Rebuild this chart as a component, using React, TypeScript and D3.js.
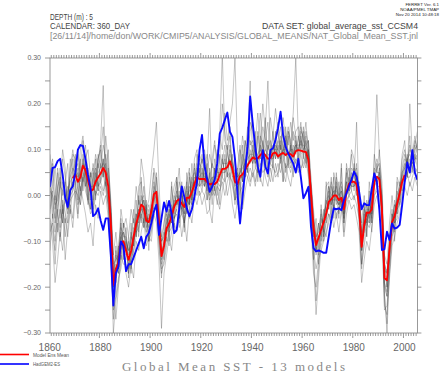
import * as d3 from "d3";
import React from "react";

const width = 441;
const height = 374;
const plot = { left: 50, right: 417.4, top: 58, bottom: 333 };

const firstYear = 1860;
const lastYear = 2005;
const ensStart = 1869;

// gray model runs, annual means 1860-2005, in hundredths of a degree
const model01 = [5, 8, 2, -4, 3, 10, 6, -3, 5, 9,
  8, 2, 10, 13, 7, 0, -3, 4, 9, 6,
  12, 24, 3, -2, -12, -27, -20, -11, -14, -6,
  -8, -17, -10, -3, -9, 2, 3, -6, -1, -10,
  0, 6, 3, -11, -18, -9, -2, -10, -1, 2,
  4, -5, 2, -7, 3, 6, -2, 8, 10, 3,
  9, 2, 7, -3, 8, 12, 5, 14, 31, 12,
  10, 15, 4, -2, 6, 11, 3, 12, 9, 16,
  14, 6, 12, 18, 10, 15, 25, 11, 7, 13,
  16, 8, 12, 5, 14, 10, 17, 13, 6, 15,
  12, 16, 9, -5, -14, -10, -15, -3, -9, 2,
  3, -6, 5, 2, -5, 6, -8, 7, 3, 10,
  8, 2, -6, -15, -2, -9, 1, -6, 9, 5,
  10, -1, -22, -28, -9, -3, -10, 4, 2, 9,
  12, 4, 20, 9, 13, 10];
const model02 = [-6, -10, -19, -14, -8, -12, -5, -9, -3, -7,
  0, -5, 2, -1, -4, -8, -6, -11, -2, -5,
  1, -2, 0, -5, -14, -25, -22, -18, -16, -12,
  -17, -20, -15, -18, -10, -12, -8, -5, -11, -9,
  -10, -4, -6, -14, -29, -17, -13, -9, -12, -6,
  -8, -4, -9, -5, -10, -3, -6, 0, -2, 1,
  -2, 0, -4, -3, -6, 2, -1, -3, 1, 4,
  0, 3, -2, -5, -1, 2, -3, 1, 4, 2,
  5, 2, 6, 3, 8, 4, 2, 6, 3, 7,
  4, 9, 5, 3, 8, 6, 10, 7, 5, 9,
  6, 8, 4, -6, -17, -20, -14, -12, -10, -8,
  -6, -3, -7, -4, -8, -3, -9, -4, -1, -3,
  -2, -5, -8, -19, -14, -10, -12, -7, -2, 0,
  -3, -9, -24, -26, -18, -11, -9, -6, -4, -1,
  2, 0, 3, 1, 4, 2];
const model03 = [3, -1, -5, 2, 4, -3, -6, 1, 4, 6,
  5, 7, 3, 8, 2, 6, 3, -1, 5, 2,
  7, 4, 9, 5, -3, -17, -13, -16, -8, -12,
  -10, -12, -8, -11, -4, -6, 0, -3, -7, -3,
  -6, 2, 0, -4, -11, -14, -5, -8, -2, -5,
  -3, 1, -4, -1, 2, -2, 3, 1, 6, 2,
  6, 3, 5, 0, 4, 1, 6, 3, 8, 5,
  9, 7, 4, 5, 0, 6, 3, 8, 5, 10,
  7, 11, 5, 10, 8, 12, 6, 9, 11, 8,
  11, 7, 10, 12, 6, 11, 8, 12, 9, 13,
  8, 12, 6, 2, -5, -9, -6, -10, -4, -2,
  1, -3, 2, -2, 1, 3, -1, 3, 0, 5,
  1, 5, 0, -8, -3, -6, -1, -5, 5, 2,
  6, -1, -15, -17, -14, -4, -6, 0, 2, 5,
  7, 4, 8, 6, 9, 6];
const model04 = [-4, 2, 6, 0, -5, 3, 1, -3, -1, 8,
  2, 6, 0, 9, 4, -1, 5, 3, 0, 7,
  3, 8, 2, 6, -2, -14, -19, -11, -6, -13,
  -14, -9, -16, -7, -8, 0, -5, 2, -3, -9,
  -2, -3, 5, -2, -10, -8, -10, -3, -6, 0,
  3, -2, 1, -5, -3, 4, -1, 6, 2, 9,
  7, 10, 5, 9, 6, 11, 8, 13, 10, 18,
  12, 16, 20, 30, 10, 7, 13, 9, 15, 11,
  12, 9, 14, 10, 15, 12, 16, 9, 13, 10,
  12, 15, 10, 13, 11, 16, 12, 14, 15, 11,
  14, 11, 12, 3, -3, -10, -7, -4, -8, -1,
  2, 0, -3, 4, 1, -2, -1, 4, 6, 2,
  6, 1, 3, -9, -8, -1, -5, 1, 2, 7,
  3, 0, -16, -20, -10, -8, -1, -4, 3, 1,
  6, 9, 5, 10, 8, 12];
const model05 = [-8, -6, -10, -4, -7, -2, -9, -4, -1, 0,
  1, 0, -2, 3, 5, 1, -2, -4, 0, 2,
  3, 1, 4, -1, -8, -22, -27, -20, -14, -8,
  -11, -16, -14, -12, -9, -3, -5, -7, -2, -10,
  -8, -3, -2, -10, -17, -14, -9, -11, -8, -5,
  -4, -7, -3, -6, -2, -5, -1, 2, 0, 3,
  1, 5, -1, 3, 0, 2, -2, 1, 3, 0,
  3, 5, 2, -1, 0, 3, -2, 4, 6, 3,
  6, 3, 7, 4, 2, 8, 5, 3, 7, 4,
  5, 8, 3, 7, 4, 2, 6, 8, 7, 5,
  9, 6, 10, -4, -12, -16, -13, -10, -7, -9,
  -4, -6, -2, -5, -3, -1, -6, -2, 0, -1,
  0, -2, -5, -15, -11, -7, -3, -8, 0, 1,
  1, -6, -21, -30, -16, -9, -7, -3, -2, 0,
  3, 5, 2, 4, 6, 5];
const model06 = [6, -3, -8, 5, -2, -6, 3, 7, -4, 2,
  9, -1, 6, 12, 3, -2, 5, -3, 8, 1,
  9, 15, 4, 10, -4, -21, -11, -17, -5, -14,
  -7, -18, -6, -14, -1, -8, 4, -7, -3, -12,
  -1, 5, -4, -9, -12, -6, -3, -9, 3, -7,
  4, -6, 3, -8, 5, -2, 7, -1, 9, 5,
  2, 9, -1, 6, 1, 8, 3, -2, 9, 4,
  11, 3, 9, -1, 5, -3, 11, 4, 13, 25,
  6, 14, 3, 12, 8, 17, 5, 10, 6, 14,
  8, 12, 3, 15, 7, 11, 4, 13, 8, 10,
  15, 7, 12, -2, -9, -5, -13, -2, -9, 3,
  -3, 4, -5, 5, -2, 7, -6, 5, 2, 9,
  4, 16, -1, -6, 0, -9, 3, -2, 8, 22,
  9, 3, -13, -15, -6, 0, -6, 3, -1, 8,
  10, 6, 13, 5, 11, 9];
const model07 = [1, 0, -2, -1, 2, 1, -1, 1, 3, 4,
  5, 4, 5, 7, 6, 4, 2, 2, 3, 5,
  6, 7, 6, 4, -3, -15, -14, -13, -9, -8,
  -10, -12, -11, -9, -7, -5, -3, -3, -5, -5,
  -3, 0, 1, -4, -10, -9, -6, -5, -3, -2,
  0, -1, -1, -2, 0, 1, 2, 3, 5, 4,
  5, 4, 4, 3, 4, 4, 5, 5, 7, 7,
  7, 8, 7, 5, 4, 5, 6, 7, 8, 9,
  9, 8, 9, 10, 9, 10, 9, 9, 10, 10,
  10, 9, 10, 10, 9, 10, 10, 11, 11, 11,
  11, 10, 9, 2, -5, -9, -8, -6, -5, -3,
  -1, 0, 1, 1, 0, 1, -2, 1, 2, 3,
  4, 3, -1, -9, -5, -3, -3, -2, 2, 4,
  4, -2, -15, -17, -11, -6, -4, -2, 0, 3,
  5, 6, 7, 7, 8, 8];
const model08 = [-12, -4, -15, -6, -10, -3, -14, -7, -2, -5,
  2, -4, 8, 1, 6, -1, -3, 5, -1, 8,
  11, 4, 13, 7, -1, -13, -8, -14, -3, -7,
  -5, -9, -3, -6, 2, -2, 8, 4, -3, -1,
  5, 10, 16, 3, -9, -6, -1, -5, 2, -4,
  1, 6, -3, 2, -4, 5, -1, 7, 2, 8,
  3, 7, 1, 5, -2, 6, 0, 8, 4, 9,
  4, 11, 6, 2, -1, 7, 3, 9, 5, 12,
  10, 7, 13, 8, 12, 6, 11, 9, 14, 8,
  12, 10, 15, 9, 13, 8, 14, 10, 12, 16,
  9, 13, 7, -2, -10, -13, -11, -5, -7, -1,
  -3, 2, -2, 3, -4, 1, -5, 2, 4, 1,
  7, 0, 2, -12, -4, -6, -2, -6, 5, 8,
  6, 1, -19, -22, -13, -4, -8, 1, -2, 6,
  9, 7, 11, 8, 12, 10];
const model09 = [2, -5, 0, -8, -3, -6, 0, -4, 1, 3,
  0, 2, -2, 4, 1, -1, -4, -3, 1, 0,
  2, 0, 3, -3, -10, -30, -23, -19, -13, -15,
  -15, -17, -13, -10, -8, -7, -4, -6, -8, -10,
  -7, -4, -2, -9, -16, -15, -11, -8, -7, -5,
  -3, -5, -4, -6, -3, -1, -2, 1, 2, 0,
  1, 0, 2, -1, 1, 0, 2, 1, 4, 3,
  5, 4, 3, 0, -2, 1, 2, 5, 4, 6,
  4, 6, 5, 7, 5, 6, 4, 7, 6, 5,
  7, 5, 8, 6, 7, 5, 8, 7, 9, 6,
  7, 9, 5, -3, -14, -26, -18, -11, -9, -6,
  -4, -5, -2, -4, -3, -2, -5, -1, 0, 1,
  -1, 2, -4, -16, -9, -6, -7, -4, 0, 2,
  2, -5, -25, -24, -17, -9, -6, -5, -2, 1,
  3, 4, 4, 6, 5, 6];
const model10 = [4, 7, -3, 1, 6, 0, 3, -2, 8, 5,
  7, 10, 4, 6, 11, 5, 2, 7, 4, 9,
  6, 11, 8, 3, -8, -18, -12, -16, -11, -6,
  -13, -10, -17, -8, -4, -9, -1, 0, -8, -4,
  -6, 3, -1, -7, -15, -10, -4, -7, -5, 0,
  -2, 3, 0, -4, 1, -3, 4, 2, 7, 5,
  8, 6, 9, 4, 7, 5, 10, 8, 20, 14,
  9, 13, 5, 8, 4, 10, 7, 12, 9, 14,
  16, 11, 18, 12, 20, 14, 10, 17, 13, 19,
  14, 10, 17, 12, 15, 11, 18, 30, 13, 9,
  10, 14, 11, 4, -6, -12, -9, -8, -3, -6,
  2, -2, 4, -1, 3, -3, 0, 6, 1, 4,
  2, 7, -3, -10, -6, -2, -6, 0, 4, 6,
  7, -4, -17, -16, -12, -7, -2, -4, 1, 4,
  8, 7, 10, 9, 11, 14];
const model11 = [-3, 1, -6, -2, 3, -4, -1, 2, 0, 5,
  3, 5, 1, 4, 7, 2, -1, 3, 6, 2,
  4, 8, 3, 0, -7, -20, -17, -12, -9, -11,
  -12, -15, -9, -11, -5, -3, -6, -1, -4, -7,
  -3, 1, -3, -7, -14, -12, -8, -4, -6, -1,
  -2, 0, -3, -1, -2, 2, 0, 4, 3, 6,
  3, 6, 2, 4, 1, 5, 3, 6, 5, 8,
  4, 9, 7, 2, 3, 5, 7, 4, 9, 7,
  10, 7, 9, 11, 8, 10, 12, 7, 10, 12,
  8, 11, 9, 12, 10, 7, 11, 9, 13, 10,
  12, 9, 7, -1, -12, -23, -16, -8, -10, -5,
  0, -2, 1, -1, -2, 2, -4, 0, 3, 2,
  2, 4, -3, -12, -7, -5, -6, -1, 4, 3,
  5, -3, -20, -22, -14, -7, -3, -1, 1, 4,
  6, 8, 5, 8, 7, 9];
const model12 = [9, 3, -1, 6, 2, 8, 4, -2, 6, 10,
  6, 9, 5, 3, 8, 10, 4, 6, 2, 8,
  10, 5, 7, 0, -4, -16, -18, -14, -7, -9,
  -9, -13, -10, -5, -9, -1, -3, -1, -4, -2,
  -5, -2, 4, -3, -12, -10, -6, -3, -5, -2,
  1, -3, 0, -1, 3, -1, 4, 5, 2, 7,
  6, 2, 7, 19, 2, 6, 4, 9, 7, 11,
  6, 10, 8, 4, 6, 2, 9, 6, 10, 8,
  11, 9, 7, 13, 11, 8, 10, 12, 8, 11,
  10, 13, 8, 11, 14, 12, 9, 11, 10, 14,
  13, 8, 10, -1, -8, -12, -6, -9, -4, -2,
  0, 3, -1, 2, 0, -3, -2, 3, 1, 6,
  5, 6, 1, -11, -3, -2, -1, -4, 6, 5,
  5, -4, -14, -20, -10, -5, -2, -3, 1, 5,
  6, 8, 9, 7, 10, 11];
const model13 = [-5, -8, -12, -3, -9, -1, -4, -6, 0, 1,
  3, -2, 0, 5, 2, 4, 0, -2, 4, 1,
  3, 5, 1, -2, -9, -20, -15, -17, -12, -10,
  -11, -14, -13, -10, -6, -5, -3, -4, -6, -5,
  -5, -1, 0, -6, -12, -11, -8, -7, -4, -5,
  -2, -1, -3, -4, -1, -2, 1, 2, 3, 2,
  3, 2, 4, 1, 3, 2, 3, 2, 5, 5,
  6, 7, 5, 4, 1, 4, 4, 5, 7, 8,
  7, 9, 8, 8, 10, 7, 9, 8, 8, 10,
  9, 8, 10, 9, 8, 10, 9, 10, 10, 12,
  10, 11, 9, 1, -8, -12, -10, -7, -6, -5,
  -2, -1, -1, -1, -2, -1, -4, 0, 1, 2,
  2, 3, -2, -12, -7, -5, -4, -4, 2, 3,
  4, -3, -19, -21, -13, -7, -5, -3, -1, 2,
  4, 5, 6, 7, 8, 9];

const models = [model01, model02, model03, model04, model05, model06, model07,
  model08, model09, model10, model11, model12, model13];

// model ensemble mean, 1869-2000
const ensMean = [0.038,
  0.045, 0.030, 0.040, 0.065, 0.055, 0.033, 0.010, 0.013, 0.030, 0.040,
  0.048, 0.060, 0.050, 0.020, -0.061, -0.195, -0.160, -0.146, -0.103, -0.100,
  -0.120, -0.140, -0.121, -0.090, -0.062, -0.042, -0.020, -0.025, -0.055, -0.058,
  -0.035, 0.003, 0.008, -0.060, -0.132, -0.110, -0.072, -0.061, -0.045, -0.025,
  -0.012, -0.008, -0.018, -0.025, -0.005, -0.005, 0.008, 0.025, 0.040, 0.036,
  0.036, 0.036, 0.030, 0.024, 0.026, 0.025, 0.030, 0.045, 0.058, 0.058,
  0.062, 0.075, 0.058, 0.030, 0.025, 0.042, 0.046, 0.056, 0.066, 0.075,
  0.083, 0.080, 0.081, 0.088, 0.094, 0.088, 0.080, 0.082, 0.092, 0.094,
  0.085, 0.090, 0.093, 0.088, 0.093, 0.090, 0.085, 0.097, 0.099, 0.098,
  0.096, 0.095, 0.078, 0.005, -0.070, -0.108, -0.092, -0.075, -0.058, -0.040,
  -0.014, -0.008, 0.000, 0.000, -0.010, -0.005, -0.030, 0.008, 0.025, 0.030,
  0.030, 0.025, -0.025, -0.112, -0.065, -0.037, -0.038, -0.030, 0.030, 0.041,
  0.035, -0.030, -0.180, -0.185, -0.115, -0.058, -0.045, -0.018, 0.005, 0.030,
  0.045];

// HadGEM2-ES, 1860-2005
const hadgem = [0.019, 0.060, 0.062, 0.075, 0.080, 0.045, -0.005, -0.025, 0.012, 0.020,
  0.050, 0.100, 0.110, 0.108, 0.080, 0.045, 0.015, -0.045, -0.040, -0.028,
  -0.055, -0.075, -0.050, -0.050, -0.130, -0.240, -0.170, -0.155, -0.100, -0.110,
  -0.165, -0.150, -0.150, -0.135, -0.120, -0.105, -0.090, -0.115, -0.090, -0.082,
  -0.060, -0.035, -0.020, -0.086, -0.050, -0.015, -0.035, -0.012, -0.040, -0.082,
  -0.075, -0.030, 0.020, -0.003, -0.028, -0.045, -0.030, -0.003, 0.030, 0.099,
  0.132, 0.065, 0.036, 0.008, 0.019, 0.034, 0.070, 0.135, 0.148, 0.165,
  0.181, 0.139, 0.128, 0.080, 0.005, -0.061, -0.003, 0.056, 0.106, 0.216,
  0.158, 0.106, 0.063, 0.041, 0.099, 0.063, 0.048, 0.099, 0.103, 0.121,
  0.147, 0.183, 0.132, 0.106, 0.092, 0.081, 0.070, 0.050, 0.080, 0.040,
  -0.006, 0.005, 0.019, -0.068, -0.115, -0.122, -0.120, -0.122, -0.125, -0.125,
  -0.090, -0.055, -0.028, -0.030, -0.028, -0.032, -0.010, 0.005, 0.020, 0.035,
  0.052, 0.041, 0.008, -0.030, -0.017, -0.021, -0.021, 0.015, 0.048, 0.030,
  -0.032, -0.119, -0.117, -0.079, -0.097, -0.061, -0.072, -0.070, -0.064, -0.020,
  0.030, 0.072, 0.050, 0.099, 0.050, 0.034];

const yMinor = [-0.3, -0.25, -0.2, -0.15, -0.1, -0.05, 0, 0.05, 0.1, 0.15, 0.2, 0.25, 0.3];
const yLabels = [-0.3, -0.2, -0.1, 0, 0.1, 0.2, 0.3];
const xLabels = [1860, 1880, 1900, 1920, 1940, 1960, 1980, 2000];

const headerLines = [
  { text: "DEPTH (m) : 5", x: 50, y: 20, len: 43, fill: "#444" },
  { text: "CALENDAR: 360_DAY", x: 50, y: 28.5, len: 80, fill: "#444" },
  { text: "DATA SET: global_average_sst_CCSM4", x: 262, y: 28.5, len: 156, fill: "#444" },
  { text: "[26/11/14]/home/don/WORK/CMIP5/ANALYSIS/GLOBAL_MEANS/NAT_Global_Mean_SST.jnl", x: 50, y: 38.5, len: 368, fill: "#888" },
];
const stampLines = [
  { text: "FERRET Ver. 6.1", y: 5.5 },
  { text: "NOAA/PMEL TMAP", y: 10.5 },
  { text: "Nov 20 2014 10:48:18", y: 15.5 },
];
const legendItems = [
  { name: "Model Ens Mean", color: "#ff0000", y: 354.5, len: 36 },
  { name: "HadGEM2-ES", color: "#0000ff", y: 364, len: 27 },
];

const sans = "'Liberation Sans', 'DejaVu Sans', sans-serif";

export default function App() {
  const x = d3.scaleLinear().domain([firstYear + 0.5, lastYear + 0.5]).range([plot.left, plot.right]);
  const y = d3.scaleLinear().domain([-0.3, 0.3]).range([plot.bottom, plot.top]);

  const makePath = (values: number[], start: number, unit = 1) =>
    d3.line<number>()
      .x((_, i) => x(start + i + 0.5))
      .y((v) => y(v * unit))(values) || "";

  const years = d3.range(firstYear + 1, lastYear + 1);
  const fmt = d3.format(".2f");
  const axisColor = "#808080";

  return (
    <svg width={width} height={height} style={{ position: "absolute", left: 0, top: 0, background: "#fff" }}>
      <defs>
        <clipPath id="plotClip">
          <rect x={plot.left} y={plot.top} width={plot.right - plot.left} height={plot.bottom - plot.top} />
        </clipPath>
      </defs>
      <rect width={width} height={height} fill="#fff" />

      {stampLines.map((s) => (
        <text key={s.text} x={439} y={s.y} fontSize={4.4} fontFamily={sans} fill="#222"
          textAnchor="end">{s.text}</text>
      ))}
      {headerLines.map((h) => (
        <text key={h.text} x={h.x} y={h.y} fontSize={8.6} fontFamily={sans} fill={h.fill}
          textLength={h.len} lengthAdjust="spacingAndGlyphs">{h.text}</text>
      ))}

      {/* model runs */}
      <g clipPath="url(#plotClip)" fill="none">
        {models.map((m, i) => (
          <path key={i} d={makePath(m, firstYear, 0.01)} stroke="#404040" strokeWidth={0.5} strokeOpacity={0.6} />
        ))}
        <path d={makePath(ensMean, ensStart)} stroke="#ff0000" strokeWidth={1.9} strokeLinejoin="round" />
        <path d={makePath(hadgem, firstYear)} stroke="#0a0aff" strokeWidth={1.9} strokeLinejoin="round" />
      </g>

      {/* frame and ticks */}
      <g stroke={axisColor} strokeWidth={0.8}>
        <rect x={plot.left} y={plot.top} width={plot.right - plot.left} height={plot.bottom - plot.top} fill="none" />
        {years.map((yr) => {
          const major = yr % 20 === 0;
          const len = major ? 5 : 3;
          return (
            <g key={yr}>
              <line x1={x(yr)} x2={x(yr)} y1={plot.top} y2={plot.top - len} />
              <line x1={x(yr)} x2={x(yr)} y1={plot.bottom} y2={plot.bottom + len} />
            </g>
          );
        })}
        {yMinor.map((v) => (
          <g key={v}>
            <line x1={plot.left} x2={plot.left - 5} y1={y(v)} y2={y(v)} />
            <line x1={plot.right} x2={plot.right + 4} y1={y(v)} y2={y(v)} />
          </g>
        ))}
      </g>

      {yLabels.map((v) => (
        <text key={v} x={41} y={y(v) + 2.4} fontSize={7} fontFamily={sans} fill="#666" textAnchor="end">
          {fmt(v)}
        </text>
      ))}
      {xLabels.map((yr) => (
        <text key={yr} x={x(yr) + 1} y={350.5} fontSize={10} fontFamily={sans} fill="#666" textAnchor="middle">
          {yr}
        </text>
      ))}

      {legendItems.map((l) => (
        <g key={l.name}>
          <line x1={0} x2={29} y1={l.y} y2={l.y} stroke={l.color} strokeWidth={1.6} />
          <text x={33} y={l.y + 2} fontSize={5.6} fontFamily={sans} fill="#555"
            textLength={l.len} lengthAdjust="spacingAndGlyphs">{l.name}</text>
        </g>
      ))}

      <text x={122} y={371} fontSize={13} fontFamily="'Liberation Serif', 'DejaVu Serif', serif" fill="#888"
        textLength={223} lengthAdjust="spacing">Global Mean SST  -  13 models</text>
    </svg>
  );
}
